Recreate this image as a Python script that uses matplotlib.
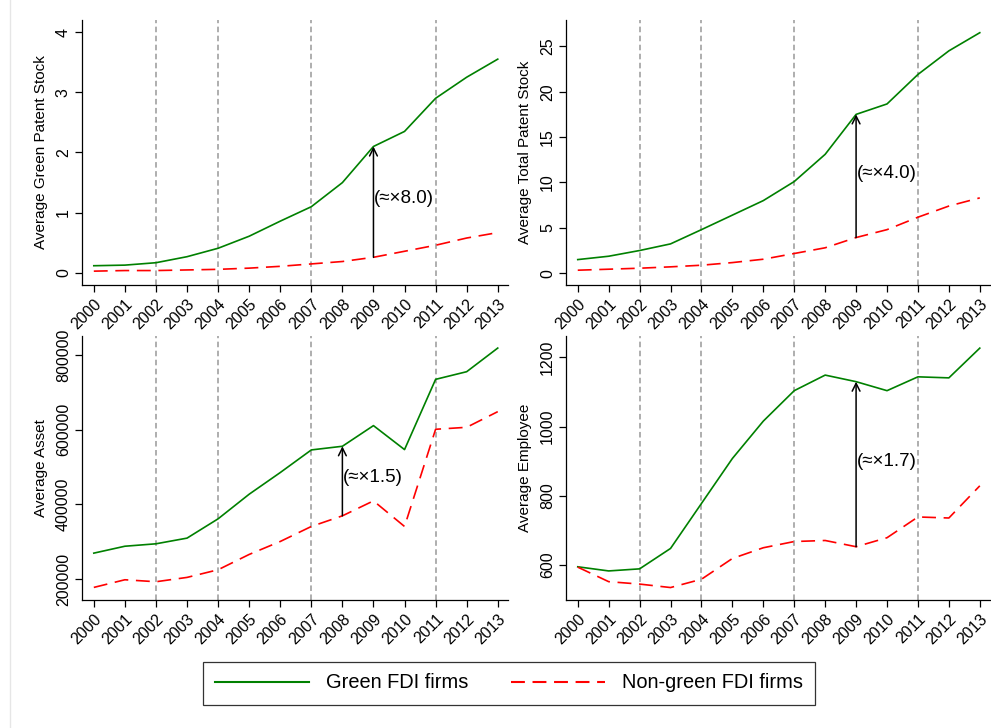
"""FDI firms: green vs non-green, four panels."""

import matplotlib
matplotlib.use("Agg")
import matplotlib.pyplot as plt
from matplotlib.lines import Line2D

plt.rcParams["font.family"] = ["Liberation Sans", "DejaVu Sans"]
plt.rcParams["lines.scale_dashes"] = False

years = list(range(2000, 2014))
event_years = [2002, 2004, 2007, 2011]

green_patent = [0.12, 0.13, 0.17, 0.27, 0.41, 0.61, 0.86, 1.10, 1.50, 2.10,
                2.35, 2.90, 3.25, 3.55]
nongreen_patent = [0.03, 0.04, 0.04, 0.05, 0.06, 0.08, 0.11, 0.15, 0.19, 0.26,
                   0.36, 0.46, 0.58, 0.67]

green_total = [1.5, 1.87, 2.5, 3.23, 4.8, 6.4, 8.0, 10.1, 13.1, 17.5,
               18.65, 21.9, 24.5, 26.5]
nongreen_total = [0.33, 0.44, 0.55, 0.7, 0.88, 1.17, 1.54, 2.17, 2.8, 3.93,
                  4.8, 6.17, 7.4, 8.3]

green_asset = [269500, 288000, 294500, 309700, 361400, 427300, 485300,
               545900, 555700, 611000, 546800, 734900, 755400, 818700]
nongreen_asset = [177700, 198200, 192900, 204500, 225000, 266000, 300700,
                  340900, 369400, 409500, 340900, 601200, 606500, 648400]

green_emp = [595, 583, 589, 648, 778, 908, 1016, 1104, 1149, 1130,
             1104, 1144, 1141, 1227]
nongreen_emp = [594, 552, 545, 535, 559, 619, 650, 668, 671, 653,
                679, 739, 736, 829]

# (green, non-green, ylabel, ylim, yticks, arrow year, ratio text, text y)
panels = [
    (green_patent, nongreen_patent, "Average Green Patent Stock",
     (-0.2, 4.2), [0, 1, 2, 3, 4], 2009, "(\u2248\u00d78.0)", 1.23),
    (green_total, nongreen_total, "Average Total Patent Stock",
     (-1.3, 27.9), [0, 5, 10, 15, 20, 25], 2009, "(\u2248\u00d74.0)", 11.0),
    (green_asset, nongreen_asset, "Average Asset",
     (144000, 851000), [200000, 400000, 600000, 800000], 2008,
     "(\u2248\u00d71.5)", 473000),
    (green_emp, nongreen_emp, "Average Employee",
     (499, 1262), [600, 800, 1000, 1200], 2009, "(\u2248\u00d71.7)", 898),
]

W, H = 991, 728
rects = [(82, 20, 508, 285), (566, 20, 990, 285),
         (82, 336, 508, 600), (566, 336, 990, 600)]

GREEN = "#008000"
RED = "#ff0000"
DASH = (0, (10, 5.5))

fig = plt.figure(figsize=(W / 100, H / 100), dpi=100)
fig.add_artist(Line2D([10 / W, 10 / W], [0, 1], color="#e6e6e6", lw=1))

for (g, ng, ylab, ylim, yticks, ay, txt, ty), (l, t, r, b) in zip(panels, rects):
    ax = fig.add_axes([l / W, 1 - b / H, (r - l) / W, (b - t) / H])
    for yr in event_years:
        ax.axvline(yr, color="#999999", lw=1.1, linestyle=(0, (4, 2.5)),
                   zorder=1)
    ax.plot(years, g, color=GREEN, lw=1.2, zorder=3)
    ax.plot(years, ng, color=RED, lw=1.2, linestyle=DASH, zorder=3)

    i = years.index(ay)
    ax.annotate("", xy=(ay, g[i]), xytext=(ay, ng[i]),
                arrowprops=dict(arrowstyle="->", color="black", lw=1.1,
                                shrinkA=0, shrinkB=0, mutation_scale=14),
                zorder=4)
    ax.text(ay + 0.02, ty, txt, ha="left", va="center", fontsize=13.5)

    ax.set_xlim(1999.62, 2013.33)
    ax.set_ylim(*ylim)
    ax.set_xticks(years)
    ax.set_xticklabels([str(y) for y in years], rotation=45, ha="right",
                       rotation_mode="anchor")
    ax.set_yticks(yticks)
    ax.set_yticklabels([str(v) for v in yticks], rotation=90, va="center")
    ax.tick_params(length=5, width=0.9, labelsize=11.5, pad=3)
    ax.set_ylabel(ylab, fontsize=11, labelpad=6)
    for side in ("top", "right"):
        ax.spines[side].set_visible(False)
    for side in ("left", "bottom"):
        ax.spines[side].set_linewidth(0.9)

handles = [Line2D([], [], color=GREEN, lw=1.5),
           Line2D([], [], color=RED, lw=1.5, linestyle=DASH)]
leg = fig.legend(handles, ["Green FDI firms", "Non-green FDI firms"],
                 loc="center", bbox_to_anchor=(509 / W, 1 - 683 / H), ncol=2,
                 fontsize=14.4, handlelength=4.7, handletextpad=0.85,
                 columnspacing=2.15, borderpad=0.6, fancybox=False,
                 frameon=True)
leg.get_frame().set_edgecolor("black")
leg.get_frame().set_linewidth(0.9)

fig.savefig("out.png", dpi=100)
